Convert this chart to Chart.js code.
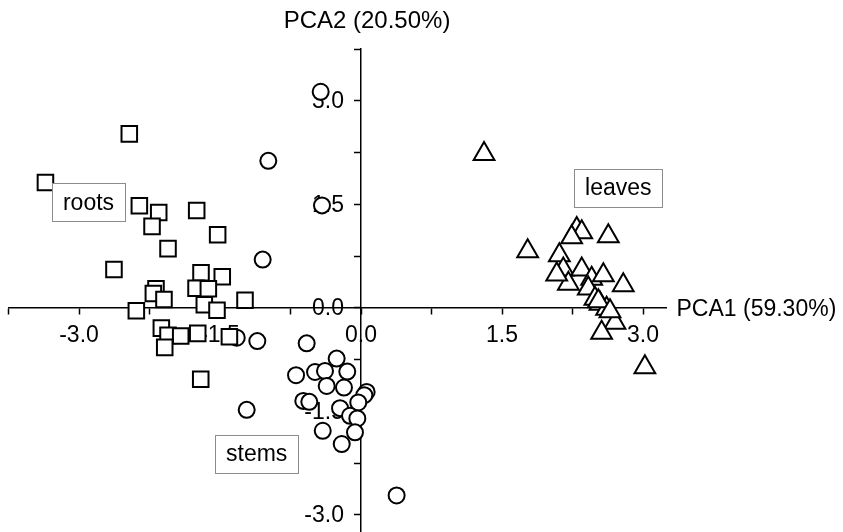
<!DOCTYPE html>
<html>
<head>
<meta charset="utf-8">
<script src="https://cdn.jsdelivr.net/npm/chart.js@4.4.0/dist/chart.umd.min.js"></script>
<style>
html, body { margin: 0; padding: 0; background: #fff; }
</style>
</head>
<body>
<canvas id="pca" width="843" height="532"></canvas>
<script>
// PCA scores
const rootsX = [-2.465, -3.357, -2.358, -2.152, -2.223, -1.748, -1.525, -2.053, -2.628, -1.702, -1.476, -2.181, -2.209, -2.096, -1.755, -1.624, -1.667, -1.532, -1.234, -2.39, -2.124, -2.053, -1.918, -2.088, -1.737, -1.40, -1.705];
const rootsY = [2.52, 1.815, 1.478, 1.381, 1.179, 1.41, 1.059, 0.857, 0.553, 0.506, 0.448, 0.275, 0.207, 0.12, 0.283, 0.275, 0.043, -0.035, 0.11, -0.043, -0.295, -0.40, -0.41, -0.574, -0.371, -0.42, -1.036];

const stemsX = [-0.429, -0.986, -0.415, -1.046, -1.322, -1.103, -0.578, -0.259, -0.691, -0.489, -0.383, -0.146, -0.365, -0.181, 0.06, 0.035, -0.029, -0.614, -0.55, -0.223, -0.117, -0.039, -0.407, -0.064, -0.205, -1.216, 0.379];
const stemsY = [3.13, 2.129, 1.483, 0.698, -0.434, -0.483, -0.516, -0.737, -0.978, -0.931, -0.916, -0.925, -1.133, -1.156, -1.22, -1.267, -1.373, -1.35, -1.364, -1.455, -1.566, -1.604, -1.783, -1.806, -1.975, -1.48, -2.72];

const leavesX = [1.309, 3.02, 1.773, 2.295, 2.348, 2.241, 2.631, 2.11, 2.152, 2.348, 2.206, 2.454, 2.578, 2.79, 2.418, 2.489, 2.543, 2.613, 2.702, 2.56, 2.082, 2.525, 2.649];
const leavesY = [2.23, -0.864, 0.818, 1.141, 1.093, 1.02, 1.035, 0.76, 0.553, 0.553, 0.347, 0.419, 0.471, 0.327, 0.279, 0.13, 0.058, -0.014, -0.217, -0.361, 0.481, 0.096, -0.049];

const xTicks = [-3.75, -3, -2.25, -1.5, -0.75, 0, 0.75, 1.5, 2.25, 3];
const yTicks = [-3, -2.25, -1.5, -0.75, 0, 0.75, 1.5, 2.25, 3, 3.75];
const xLabels = [-3, -1.5, 0, 1.5, 3];
const yLabels = [-3, -1.5, 0, 1.5, 3];
const xTitle = 'PCA1 (59.30%)';
const yTitle = 'PCA2 (20.50%)';

// group names and where their boxes sit (data units)
const groupNames = ['roots', 'stems', 'leaves'];
const groupBoxX = [-2.899, -1.11, 2.737];
const groupBoxY = [1.529, -2.117, 1.741];

const toPoints = (xs, ys) => xs.map((v, i) => ({x: v, y: ys[i]}));
const FONT = '"Liberation Sans", Arial, sans-serif';

const axisText = {
    id: 'axisText',
    beforeDatasetsDraw(chart) {
        const {ctx} = chart;
        const x = chart.scales.x, y = chart.scales.y;
        const x0 = x.getPixelForValue(0), y0 = y.getPixelForValue(0);
        ctx.save();
        ctx.fillStyle = '#000';
        ctx.font = '23px ' + FONT;
        ctx.textBaseline = 'middle';
        ctx.textAlign = 'center';
        xLabels.forEach(v => ctx.fillText(v.toFixed(1), x.getPixelForValue(v), y0 + 28));
        ctx.textAlign = 'right';
        yLabels.forEach(v => ctx.fillText(v.toFixed(1), x0 - 17, y.getPixelForValue(v) + 1));
        ctx.textAlign = 'left';
        ctx.fillText(xTitle, x.right + 10, y0 + 2);
        ctx.textAlign = 'center';
        ctx.font = '24px ' + FONT;
        ctx.fillText(yTitle, x0 + 6, 21);
        ctx.restore();
    }
};

const groupBoxes = {
    id: 'groupBoxes',
    afterDatasetsDraw(chart) {
        const {ctx} = chart;
        const x = chart.scales.x, y = chart.scales.y;
        ctx.save();
        ctx.font = '23px ' + FONT;
        ctx.textAlign = 'center';
        ctx.textBaseline = 'middle';
        groupNames.forEach((name, i) => {
            const cx = x.getPixelForValue(groupBoxX[i]);
            const cy = y.getPixelForValue(groupBoxY[i]);
            const w = ctx.measureText(name).width + 22;
            const h = 38;
            ctx.fillStyle = '#fff';
            ctx.fillRect(cx - w / 2, cy - h / 2, w, h);
            ctx.strokeStyle = '#8c8c8c';
            ctx.lineWidth = 1;
            ctx.strokeRect(Math.round(cx - w / 2) + 0.5, Math.round(cy - h / 2) + 0.5, Math.round(w), h);
            ctx.fillStyle = '#000';
            ctx.fillText(name, cx, cy + 1);
        });
        ctx.restore();
    }
};

const axisOpts = (min, max, pos, tickVals) => ({
    type: 'linear',
    min: min,
    max: max,
    position: pos,
    afterBuildTicks: s => { s.ticks = tickVals.map(v => ({value: v})); },
    ticks: {display: false},
    grid: {drawOnChartArea: false, drawTicks: true, tickLength: 6, tickWidth: 1.5, tickColor: '#000'},
    border: {color: '#000', width: 1.5}
});

const ctx = document.getElementById('pca').getContext('2d');
const pcaChart = new Chart(ctx, {
    type: 'scatter',
    data: {
        datasets: [{
            label: 'roots',
            data: toPoints(rootsX, rootsY),
            pointStyle: 'rect',
            pointRadius: 11,
            borderWidth: 2,
            borderColor: '#000',
            backgroundColor: '#fff',
            clip: false
        }, {
            label: 'stems',
            data: toPoints(stemsX, stemsY),
            pointStyle: 'circle',
            pointRadius: 8,
            borderWidth: 2,
            borderColor: '#000',
            backgroundColor: '#fff',
            clip: false
        }, {
            label: 'leaves',
            data: toPoints(leavesX, leavesY),
            pointStyle: 'triangle',
            pointRadius: 12,
            borderWidth: 2,
            borderColor: '#000',
            backgroundColor: '#fff',
            clip: false
        }]
    },
    options: {
        responsive: false,
        animation: false,
        devicePixelRatio: 1,
        layout: {autoPadding: false, padding: {left: 8.5, right: 176.5, top: 49, bottom: 0}},
        scales: {
            x: axisOpts(-3.75, 3.25, {y: 0}, xTicks),
            y: axisOpts(-3.25, 3.75, {x: 0}, yTicks)
        },
        plugins: {
            legend: {display: false},
            tooltip: {enabled: false}
        }
    },
    plugins: [axisText, groupBoxes]
});
</script>
</body>
</html>
